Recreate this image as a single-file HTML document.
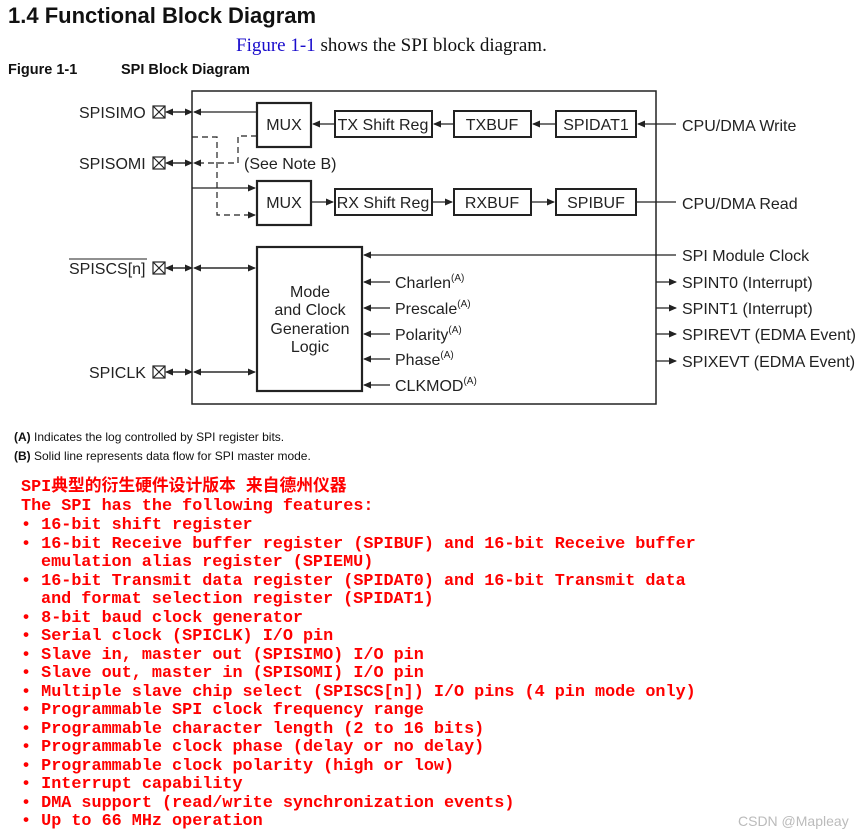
<!DOCTYPE html>
<html><head><meta charset="utf-8"><style>
body{margin:0;background:#fff;width:865px;height:836px;overflow:hidden}
svg{display:block}
.d{font-family:"Liberation Sans",Arial,sans-serif;font-size:16px;fill:#222}
.r{font-family:"Liberation Mono","Noto Sans CJK SC",monospace;font-size:16.8px;font-weight:bold;fill:#f00}
</style></head><body>
<svg width="865" height="836" xmlns="http://www.w3.org/2000/svg">
<defs>
<marker id="a" markerWidth="8" markerHeight="8" refX="7" refY="4" orient="auto" markerUnits="userSpaceOnUse"><path d="M0,0.5 L8,4 L0,7.5z" fill="#222"/></marker>
</defs>
<text x="8" y="23" font-family="Liberation Sans,sans-serif" font-weight="bold" font-size="22" fill="#111">1.4  Functional Block Diagram</text>
<text x="236" y="51" font-family="Liberation Serif,serif" font-size="19" fill="#111"><tspan fill="#1a0dcc">Figure 1-1</tspan> shows the SPI block diagram.</text>
<text x="8" y="74" font-family="Liberation Sans,sans-serif" font-weight="bold" font-size="14.5" fill="#111">Figure 1-1</text>
<text x="121" y="74" font-family="Liberation Sans,sans-serif" font-weight="bold" font-size="14.5" fill="#111">SPI Block Diagram</text>
<g stroke="#222" fill="none">
<rect x="192" y="91" width="464" height="313" stroke-width="1.5"/>
<g stroke-width="2.2"><rect x="257" y="103" width="54" height="44"/><rect x="257" y="181" width="54" height="44"/><rect x="257" y="247" width="105" height="144"/></g>
<g stroke-width="2"><rect x="335" y="111" width="97" height="26"/><rect x="454" y="111" width="77" height="26"/><rect x="556" y="111" width="80" height="26"/>
<rect x="335" y="189" width="97" height="26"/><rect x="454" y="189" width="77" height="26"/><rect x="556" y="189" width="80" height="26"/></g>
<g stroke-width="1.2">
<line x1="676" y1="124" x2="638" y2="124" marker-end="url(#a)"/>
<line x1="556" y1="124" x2="533" y2="124" marker-end="url(#a)"/>
<line x1="454" y1="124" x2="434" y2="124" marker-end="url(#a)"/>
<line x1="335" y1="124" x2="313" y2="124" marker-end="url(#a)"/>
<line x1="257" y1="112" x2="194" y2="112" marker-end="url(#a)"/>
<line x1="311" y1="202" x2="333" y2="202" marker-end="url(#a)"/>
<line x1="432" y1="202" x2="452" y2="202" marker-end="url(#a)"/>
<line x1="531" y1="202" x2="554" y2="202" marker-end="url(#a)"/>
<line x1="636" y1="202" x2="676" y2="202"/>
<polyline points="192,188 255,188" marker-end="url(#a)"/>
<line x1="676" y1="255" x2="364" y2="255" marker-end="url(#a)"/>
<line x1="390" y1="282" x2="364" y2="282" marker-end="url(#a)"/>
<line x1="390" y1="308" x2="364" y2="308" marker-end="url(#a)"/>
<line x1="390" y1="334" x2="364" y2="334" marker-end="url(#a)"/>
<line x1="390" y1="359" x2="364" y2="359" marker-end="url(#a)"/>
<line x1="390" y1="385" x2="364" y2="385" marker-end="url(#a)"/>
<line x1="656" y1="282" x2="676" y2="282" marker-end="url(#a)"/>
<line x1="656" y1="308" x2="676" y2="308" marker-end="url(#a)"/>
<line x1="656" y1="334" x2="676" y2="334" marker-end="url(#a)"/>
<line x1="656" y1="361" x2="676" y2="361" marker-end="url(#a)"/>
<line x1="200" y1="268" x2="255" y2="268" marker-end="url(#a)"/>
<line x1="248" y1="268" x2="194" y2="268" marker-end="url(#a)"/>
<line x1="200" y1="372" x2="255" y2="372" marker-end="url(#a)"/>
<line x1="248" y1="372" x2="194" y2="372" marker-end="url(#a)"/>
<line x1="168" y1="112" x2="192" y2="112" marker-end="url(#a)"/>
<line x1="185" y1="112" x2="166" y2="112" marker-end="url(#a)"/>
<line x1="168" y1="163" x2="192" y2="163" marker-end="url(#a)"/>
<line x1="185" y1="163" x2="166" y2="163" marker-end="url(#a)"/>
<line x1="168" y1="268" x2="192" y2="268" marker-end="url(#a)"/>
<line x1="185" y1="268" x2="166" y2="268" marker-end="url(#a)"/>
<line x1="168" y1="372" x2="192" y2="372" marker-end="url(#a)"/>
<line x1="185" y1="372" x2="166" y2="372" marker-end="url(#a)"/>
<g stroke-dasharray="6,4">
<polyline points="257,136 238,136 238,163 194,163" marker-end="url(#a)"/>
<polyline points="192,137 217,137 217,215 255,215" marker-end="url(#a)"/>
</g>
</g>
<g stroke-width="1.2">
<rect x="153" y="106" width="12" height="12"/><path d="M153,106 L165,118 M165,106 L153,118"/>
<rect x="153" y="157" width="12" height="12"/><path d="M153,157 L165,169 M165,157 L153,169"/>
<rect x="153" y="262" width="12" height="12"/><path d="M153,262 L165,274 M165,262 L153,274"/>
<rect x="153" y="366" width="12" height="12"/><path d="M153,366 L165,378 M165,366 L153,378"/>
</g>
</g>
<g class="d">
<text x="79" y="118">SPISIMO</text>
<text x="79" y="169">SPISOMI</text>
<text x="69" y="274">SPISCS[n]</text>
<line x1="69" y1="259" x2="147" y2="259" stroke="#222" stroke-width="1"/>
<text x="89" y="378">SPICLK</text>
<text x="284" y="130" text-anchor="middle">MUX</text>
<text x="284" y="208" text-anchor="middle">MUX</text>
<text x="383" y="130" text-anchor="middle">TX Shift Reg</text>
<text x="492" y="130" text-anchor="middle">TXBUF</text>
<text x="596" y="130" text-anchor="middle">SPIDAT1</text>
<text x="383" y="208" text-anchor="middle">RX Shift Reg</text>
<text x="492" y="208" text-anchor="middle">RXBUF</text>
<text x="596" y="208" text-anchor="middle">SPIBUF</text>
<text x="244" y="169">(See Note B)</text>
<text x="310" y="297" text-anchor="middle">Mode</text>
<text x="310" y="315" text-anchor="middle">and Clock</text>
<text x="310" y="334" text-anchor="middle">Generation</text>
<text x="310" y="352" text-anchor="middle">Logic</text>
<text x="395" y="288">Charlen<tspan font-size="10" dy="-7">(A)</tspan></text>
<text x="395" y="314">Prescale<tspan font-size="10" dy="-7">(A)</tspan></text>
<text x="395" y="340">Polarity<tspan font-size="10" dy="-7">(A)</tspan></text>
<text x="395" y="365">Phase<tspan font-size="10" dy="-7">(A)</tspan></text>
<text x="395" y="391">CLKMOD<tspan font-size="10" dy="-7">(A)</tspan></text>
<text x="682" y="131">CPU/DMA Write</text>
<text x="682" y="209">CPU/DMA Read</text>
<text x="682" y="261">SPI Module Clock</text>
<text x="682" y="288">SPINT0 (Interrupt)</text>
<text x="682" y="314">SPINT1 (Interrupt)</text>
<text x="682" y="340">SPIREVT (EDMA Event)</text>
<text x="682" y="367">SPIXEVT (EDMA Event)</text>
</g>
<g font-family="Liberation Sans,sans-serif" font-size="12" fill="#111">
<text x="14" y="441"><tspan font-weight="bold">(A)</tspan> Indicates the log controlled by SPI register bits.</text>
<text x="14" y="460"><tspan font-weight="bold">(B)</tspan> Solid line represents data flow for SPI master mode.</text>
</g>
<g class="r">
<text x="21" y="491">SPI典型的衍生硬件设计版本 来自德州仪器</text>
<text x="21" y="510">The SPI has the following features:</text>
<text x="21" y="529">• 16-bit shift register</text>
<text x="21" y="548">• 16-bit Receive buffer register (SPIBUF) and 16-bit Receive buffer</text>
<text x="41" y="566">emulation alias register (SPIEMU)</text>
<text x="21" y="585">• 16-bit Transmit data register (SPIDAT0) and 16-bit Transmit data</text>
<text x="41" y="603">and format selection register (SPIDAT1)</text>
<text x="21" y="622">• 8-bit baud clock generator</text>
<text x="21" y="640">• Serial clock (SPICLK) I/O pin</text>
<text x="21" y="659">• Slave in, master out (SPISIMO) I/O pin</text>
<text x="21" y="677">• Slave out, master in (SPISOMI) I/O pin</text>
<text x="21" y="696">• Multiple slave chip select (SPISCS[n]) I/O pins (4 pin mode only)</text>
<text x="21" y="714">• Programmable SPI clock frequency range</text>
<text x="21" y="733">• Programmable character length (2 to 16 bits)</text>
<text x="21" y="751">• Programmable clock phase (delay or no delay)</text>
<text x="21" y="770">• Programmable clock polarity (high or low)</text>
<text x="21" y="788">• Interrupt capability</text>
<text x="21" y="807">• DMA support (read/write synchronization events)</text>
<text x="21" y="825">• Up to 66 MHz operation</text>
</g>
<text x="738" y="826" font-family="Liberation Sans,sans-serif" font-size="14" fill="#bbb">CSDN @Mapleay</text>
</svg>
</body></html>
